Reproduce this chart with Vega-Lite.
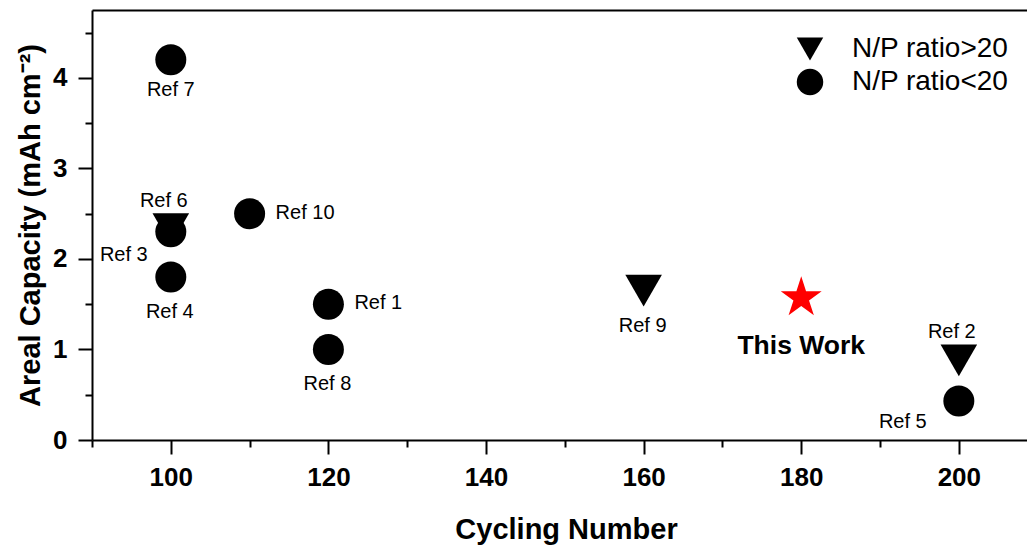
{
  "$schema": "https://vega.github.io/schema/vega-lite/v6.json",
  "width": 935,
  "height": 430,
  "autosize": "none",
  "padding": {"left": 92, "top": 10, "right": 0, "bottom": 109},
  "background": "white",
  "data": {
    "values": [
      {"ref": "Ref 7", "cycles": 100, "capacity": 4.2, "np": "N/P ratio<20"},
      {"ref": "Ref 6", "cycles": 100, "capacity": 2.33, "np": "N/P ratio>20"},
      {"ref": "Ref 3", "cycles": 100, "capacity": 2.3, "np": "N/P ratio<20"},
      {"ref": "Ref 4", "cycles": 100, "capacity": 1.8, "np": "N/P ratio<20"},
      {"ref": "Ref 10", "cycles": 110, "capacity": 2.5, "np": "N/P ratio<20"},
      {"ref": "Ref 1", "cycles": 120, "capacity": 1.5, "np": "N/P ratio<20"},
      {"ref": "Ref 8", "cycles": 120, "capacity": 1.0, "np": "N/P ratio<20"},
      {"ref": "Ref 9", "cycles": 160, "capacity": 1.65, "np": "N/P ratio>20"},
      {"ref": "This Work", "cycles": 180, "capacity": 1.57, "np": "This Work"},
      {"ref": "Ref 2", "cycles": 200, "capacity": 0.88, "np": "N/P ratio>20"},
      {"ref": "Ref 5", "cycles": 200, "capacity": 0.43, "np": "N/P ratio<20"}
    ]
  },
  "encoding": {
    "x": {"field": "cycles", "type": "quantitative", "scale": {"domain": [90, 208.65], "nice": false, "zero": false}},
    "y": {"field": "capacity", "type": "quantitative", "scale": {"domain": [0, 4.75], "nice": false},
      "axis": {
        "title": "Areal Capacity (mAh cm⁻²)",
        "values": [0, 0.5, 1, 1.5, 2, 2.5, 3, 3.5, 4, 4.5],
        "labelExpr": "datum.value % 1 == 0 ? '' + datum.value : ''",
        "tickSize": {"condition": {"test": "datum.value % 1 == 0", "value": 14}, "value": 7},
        "labelPadding": 11,
        "titlePadding": 7
      }
    }
  },
  "layer": [
    {
      "transform": [{"filter": "datum.np == 'N/P ratio<20'"}],
      "mark": {"type": "point", "filled": true, "color": "black", "opacity": 1, "strokeWidth": 0, "size": 961},
      "encoding": {
        "x": {"field": "cycles", "type": "quantitative",
          "axis": {
            "orient": "bottom",
            "title": "Cycling Number",
            "values": [90, 100, 110, 120, 130, 140, 150, 160, 170, 180, 190, 200],
            "labelExpr": "datum.value % 20 == 0 ? '' + datum.value : ''",
            "tickSize": {"condition": {"test": "datum.value % 20 == 0", "value": 14}, "value": 7},
            "labelPadding": 10,
            "titlePadding": 25,
            "titleX": 474
          }
        },
        "shape": {"field": "np", "type": "nominal",
          "scale": {"domain": ["N/P ratio>20", "N/P ratio<20"], "range": ["triangle-down", "circle"]},
          "legend": {"orient": "none", "legendX": 704, "legendY": 25, "title": null}
        }
      }
    },
    {
      "transform": [{"filter": "datum.np == 'N/P ratio>20'"}],
      "mark": {"type": "point", "filled": true, "color": "black", "opacity": 1, "strokeWidth": 0, "size": 1340},
      "encoding": {
        "x": {"field": "cycles", "type": "quantitative", "axis": null},
        "shape": {"field": "np", "type": "nominal",
          "scale": {"domain": ["N/P ratio>20", "N/P ratio<20"], "range": ["triangle-down", "circle"]},
          "legend": {"orient": "none", "legendX": 704, "legendY": 25, "title": null}
        }
      }
    },
    {
      "transform": [{"filter": "datum.np == 'This Work'"}],
      "mark": {"type": "point", "filled": true, "color": "#ff0000", "opacity": 1, "strokeWidth": 0, "size": 1849,
        "shape": "M0,-1L0.2245,-0.309L0.951,-0.309L0.363,0.118L0.588,0.809L0,0.382L-0.588,0.809L-0.363,0.118L-0.951,-0.309L-0.2245,-0.309Z"},
      "encoding": {
        "x": {"field": "cycles", "type": "quantitative",
          "axis": {"orient": "top", "labels": false, "ticks": false, "title": null}
        }
      }
    },
    {
      "transform": [{"filter": "datum.np == 'This Work'"}],
      "mark": {"type": "text", "font": "Liberation Sans", "fontSize": 26.5, "fontWeight": "bold", "color": "black", "baseline": "middle", "dy": 48},
      "encoding": {"x": {"field": "cycles", "type": "quantitative", "axis": null}, "text": {"field": "ref"}}
    },
    {
      "transform": [{"filter": {"field": "ref", "oneOf": ["Ref 4", "Ref 8", "Ref 9"]}}],
      "mark": {"type": "text", "font": "Liberation Sans", "fontSize": 20, "color": "black", "baseline": "middle", "dy": 35, "dx": -1},
      "encoding": {"x": {"field": "cycles", "type": "quantitative", "axis": null}, "text": {"field": "ref"}}
    },
    {
      "transform": [{"filter": {"field": "ref", "oneOf": ["Ref 7"]}}],
      "mark": {"type": "text", "font": "Liberation Sans", "fontSize": 20, "color": "black", "baseline": "middle", "dy": 30},
      "encoding": {"x": {"field": "cycles", "type": "quantitative", "axis": null}, "text": {"field": "ref"}}
    },
    {
      "transform": [{"filter": {"field": "ref", "oneOf": ["Ref 6", "Ref 2"]}}],
      "mark": {"type": "text", "font": "Liberation Sans", "fontSize": 20, "color": "black", "baseline": "middle", "dy": -28, "dx": -7},
      "encoding": {"x": {"field": "cycles", "type": "quantitative", "axis": null}, "text": {"field": "ref"}}
    },
    {
      "transform": [{"filter": {"field": "ref", "oneOf": ["Ref 10", "Ref 1"]}}],
      "mark": {"type": "text", "font": "Liberation Sans", "fontSize": 20, "color": "black", "baseline": "middle", "align": "left", "dy": -1, "dx": 26},
      "encoding": {"x": {"field": "cycles", "type": "quantitative", "axis": null}, "text": {"field": "ref"}}
    },
    {
      "transform": [{"filter": {"field": "ref", "oneOf": ["Ref 3"]}}],
      "mark": {"type": "text", "font": "Liberation Sans", "fontSize": 20, "color": "black", "baseline": "middle", "dy": 23, "dx": -47},
      "encoding": {"x": {"field": "cycles", "type": "quantitative", "axis": null}, "text": {"field": "ref"}}
    },
    {
      "transform": [{"filter": {"field": "ref", "oneOf": ["Ref 5"]}}],
      "mark": {"type": "text", "font": "Liberation Sans", "fontSize": 20, "color": "black", "baseline": "middle", "dy": 21, "dx": -56},
      "encoding": {"x": {"field": "cycles", "type": "quantitative", "axis": null}, "text": {"field": "ref"}}
    }
  ],
  "resolve": {"axis": {"x": "independent"}},
  "config": {
    "view": {"stroke": null},
    "font": "Liberation Sans",
    "axis": {
      "grid": false,
      "domainColor": "black",
      "domainWidth": 2,
      "tickColor": "black",
      "tickWidth": 2,
      "labelFont": "Liberation Sans",
      "labelFontSize": 26,
      "labelFontWeight": "bold",
      "labelColor": "black",
      "titleFont": "Liberation Sans",
      "titleFontSize": 29,
      "titleFontWeight": "bold",
      "titleColor": "black"
    },
    "legend": {
      "padding": 0,
      "labelFont": "Liberation Sans",
      "labelFontSize": 28,
      "labelColor": "black",
      "labelOffset": 28,
      "symbolSize": 700,
      "symbolFillColor": "black",
      "symbolStrokeWidth": 0,
      "symbolOpacity": 1,
      "rowPadding": 5
    }
  }
}
